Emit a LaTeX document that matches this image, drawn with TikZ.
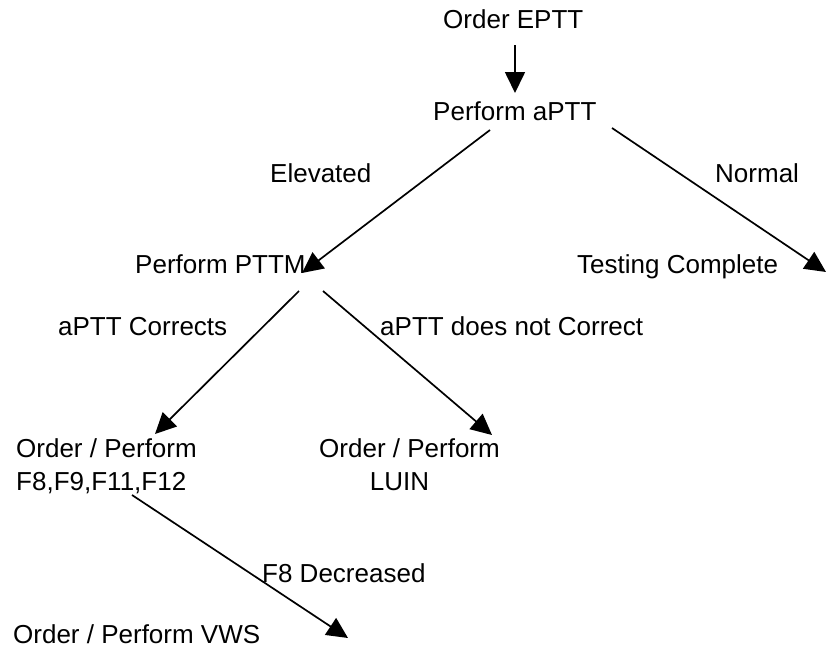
\documentclass[tikz,border=0pt]{standalone}
\usepackage{fontspec}
\setmainfont{Liberation Sans}
\usetikzlibrary{arrows.meta}
\begin{document}
\begin{tikzpicture}[x=1pt,y=-1pt,
        lbl/.style={anchor=base west, inner sep=0pt, font=\fontsize{26}{33}\selectfont},
        arr/.style={-{Triangle[length=21pt,width=20pt]}, line width=1.7pt}]
        \useasboundingbox (0,0) rectangle (827,648);

        \node[lbl] (eptt) at (443,28) {Order EPTT};
        \node[lbl] (aptt) at (433,120) {Perform aPTT};
        \node[lbl] (elev) at (270,182) {Elevated};
        \node[lbl] (normal) at (715,182) {Normal};
        \node[lbl] (pttm) at (135,273) {Perform PTTM};
        \node[lbl] (done) at (577,273) {Testing Complete};
        \node[lbl] (corr) at (58,335) {aPTT Corrects};
        \node[lbl] (nocorr) at (380,335) {aPTT does not Correct};
        \node[lbl, align=left] (factors) at (16,490) {Order / Perform\\F8,F9,F11,F12};
        \node[lbl, align=center] (luin) at (319,490) {Order / Perform\\LUIN\hspace*{20pt}};
        \node[lbl] (fviii) at (262,582) {F8 Decreased};
        \node[lbl] (vws) at (13,643) {Order / Perform VWS};

        \coordinate (s1) at (515,45);  \coordinate (e1) at (515,93);
        \coordinate (s2) at (490,130); \coordinate (e2) at (302,273);
        \coordinate (s3) at (612,128); \coordinate (e3) at (826,272);
        \coordinate (s4) at (299,291); \coordinate (e4) at (155,434);
        \coordinate (s5) at (323,291); \coordinate (e5) at (492,435);
        \coordinate (s6) at (132,495); \coordinate (e6) at (348,638);

        \draw[arr] (s1) -- (e1);
        \draw[arr] (s2) -- (e2);
        \draw[arr] (s3) -- (e3);
        \draw[arr] (s4) -- (e4);
        \draw[arr] (s5) -- (e5);
        \draw[arr] (s6) -- (e6);
    \end{tikzpicture}
\end{document}
